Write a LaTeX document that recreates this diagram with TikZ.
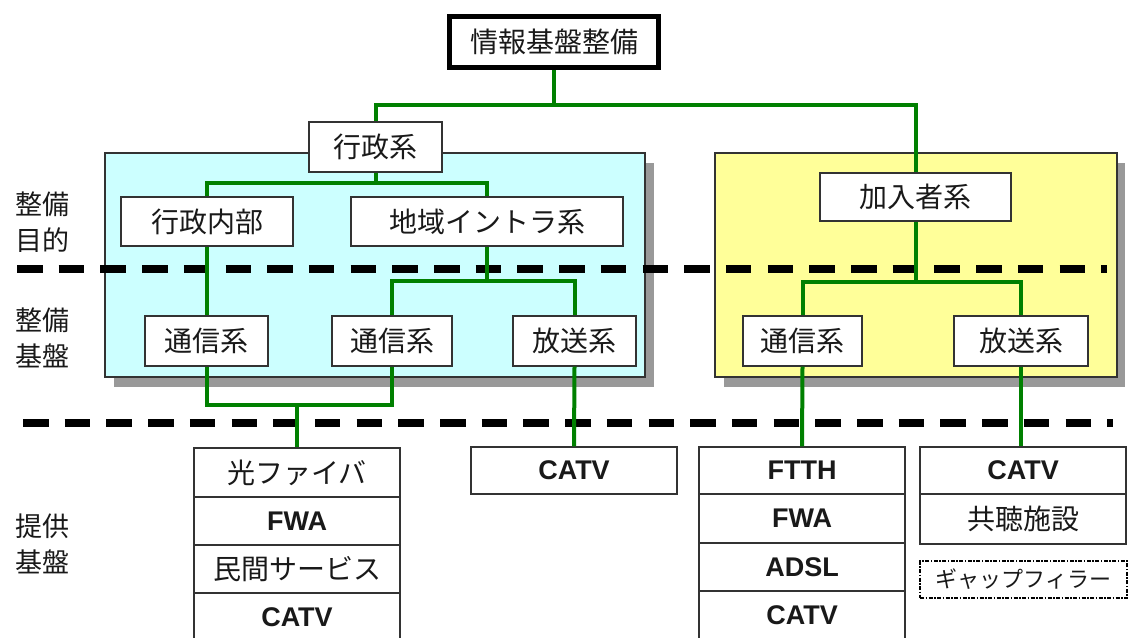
\documentclass[tikz,border=0pt]{standalone}
\usepackage{fontspec}
\setmainfont{Noto Sans CJK JP}
\newfontfamily\latf{Liberation Sans}
\definecolor{cyanfill}{HTML}{CCFFFF}
\definecolor{yelfill}{HTML}{FFFF99}
\definecolor{linkgreen}{HTML}{008000}
\begin{document}
\begin{tikzpicture}[x=1pt,y=-1pt,
  box/.style={draw=black!80, line width=1.3pt, fill=white, inner sep=0pt,
    font=\fontsize{28}{32}\selectfont, text=black!90},
  topbox/.style={box, draw=black, line width=5pt, minimum width=209pt, minimum height=51pt},
  latbox/.style={box, font=\latf\bfseries\fontsize{27}{30}\selectfont},
  gapbox/.style={box, draw=black, line width=1.6pt, dash pattern=on 4pt off 1.5pt on 1.5pt off 1.5pt,
    font=\fontsize{22}{26}\selectfont},
  sidelabel/.style={align=center, font=\fontsize{27}{36}\selectfont, text=black!90, inner sep=0pt},
  panel/.style={draw=black!80, line width=1.3pt},
  shadow/.style={fill=black!40},
  divider/.style={draw=black, line width=8pt, dash pattern=on 25.5pt off 16.2pt},
  link/.style={draw=linkgreen, line width=4pt}
]
\useasboundingbox (0,0) rectangle (1129,637);
\fill[white] (0,0) rectangle (1129,637);

% panels
\fill[shadow] (114,163) rectangle (654,387);
\draw[panel, fill=cyanfill] (105,153) rectangle (645,377);
\fill[shadow] (724,163) rectangle (1125,387);
\draw[panel, fill=yelfill] (715,153) rectangle (1117,377);

% dividers
\draw[divider] (17,269) -- (1107,269);
\draw[divider] (23,423) -- (1113,423);

% side labels
\node[sidelabel] (lab1) at (42,222) {整備\\目的};
\node[sidelabel] (lab2) at (42,338) {整備\\基盤};
\node[sidelabel] (lab3) at (42,544) {提供\\基盤};

% nodes
\node[topbox] (top) at (554,42) {情報基盤整備};
\node[box, minimum width=133pt, minimum height=50pt] (gyosei) at (375.5,147) {行政系};
\node[box, minimum width=172pt, minimum height=49pt] (naibu) at (207,221.5) {行政内部};
\node[box, minimum width=272pt, minimum height=49pt] (chiiki) at (487,221.5) {地域イントラ系};
\node[box, minimum width=123pt, minimum height=50pt] (ts1) at (206.5,341) {通信系};
\node[box, minimum width=120pt, minimum height=50pt] (ts2) at (392,341) {通信系};
\node[box, minimum width=123pt, minimum height=50pt] (hs1) at (574.5,341) {放送系};
\node[box, minimum width=191pt, minimum height=48pt] (kanyu) at (915.5,197) {加入者系};
\node[box, minimum width=119pt, minimum height=50pt] (ts3) at (802.5,341) {通信系};
\node[box, minimum width=134pt, minimum height=50pt] (hs2) at (1021,341) {放送系};

% left stack
\node[box, minimum width=206pt, minimum height=49pt] (l1) at (297,472.5) {光ファイバ};
\node[latbox, minimum width=206pt, minimum height=48pt] (l2) at (297,521) {FWA};
\node[box, minimum width=206pt, minimum height=48pt] (l3) at (297,569) {民間サービス};
\node[latbox, minimum width=206pt, minimum height=48pt] (l4) at (297,617) {CATV};

% middle
\node[latbox, minimum width=206pt, minimum height=47pt] (m1) at (574,470.5) {CATV};

% FTTH stack
\node[latbox, minimum width=206pt, minimum height=47pt] (f1) at (802,470.5) {FTTH};
\node[latbox, minimum width=206pt, minimum height=49pt] (f2) at (802,518.5) {FWA};
\node[latbox, minimum width=206pt, minimum height=48pt] (f3) at (802,567) {ADSL};
\node[latbox, minimum width=206pt, minimum height=49pt] (f4) at (802,615.5) {CATV};

% right stack
\node[latbox, minimum width=206pt, minimum height=47pt] (r1) at (1023,470.5) {CATV};
\node[box, minimum width=206pt, minimum height=50pt] (r2) at (1023,519) {共聴施設};
\node[gapbox, minimum width=207pt, minimum height=37pt] (gap) at (1023.5,579.5) {ギャップフィラー};

% connectors
\coordinate (j0) at (554,105);
\draw[link] (top.south) -- (j0) -| (gyosei.north);
\draw[link] (j0) -| (kanyu.north);
\coordinate (j1) at (375.5,183);
\draw[link] (gyosei.south) -- (j1) -| (naibu.north);
\draw[link] (j1) -| (chiiki.north);
\draw[link] (naibu.south) -- (naibu.south |- ts1.north);
\coordinate (j2) at (487,281);
\draw[link] (chiiki.south) -- (j2) -| (ts2.north);
\draw[link] (j2) -| (hs1.north);
\coordinate (j3) at (915.5,282);
\draw[link] (kanyu.south) -- (j3) -| (ts3.north);
\draw[link] (j3) -| (hs2.north);
\coordinate (j4) at (297,405);
\draw[link] (ts1.south) |- (j4) -| (ts2.south);
\draw[link] (j4) -- (l1.north);
\draw[link] (hs1.south) -- (m1.north);
\draw[link] (ts3.south) -- (f1.north);
\draw[link] (hs2.south) -- (hs2.south |- r1.north);
\end{tikzpicture}
\end{document}
